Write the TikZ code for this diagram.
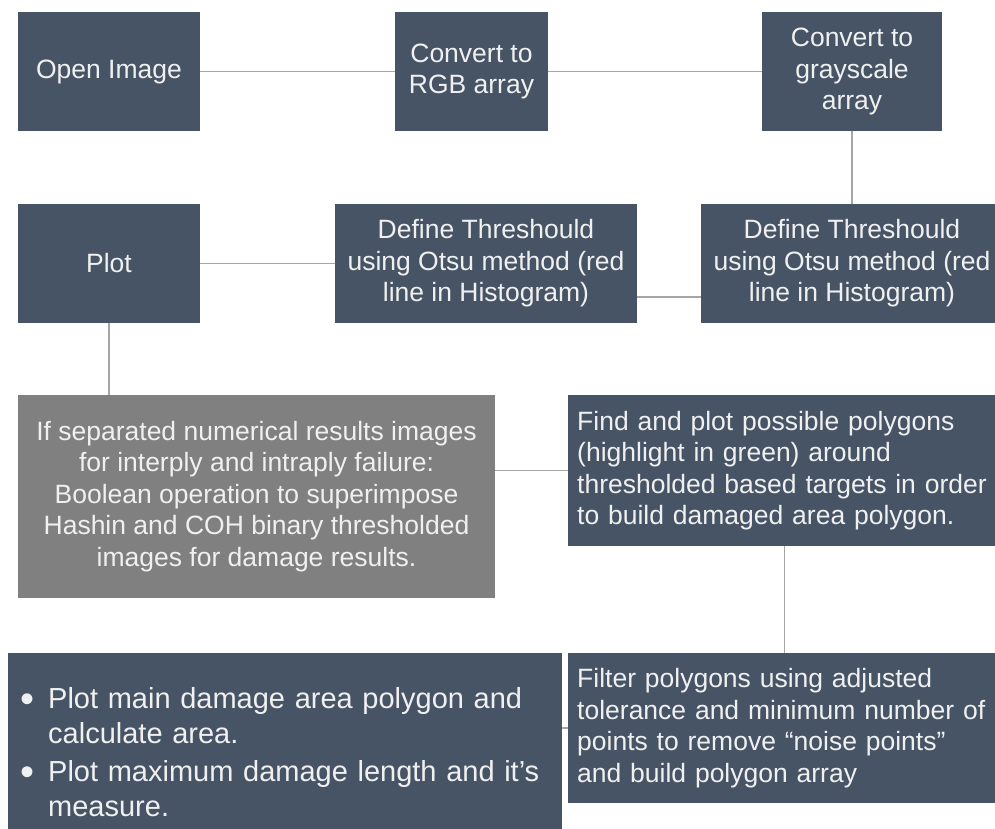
\documentclass[tikz,border=0pt]{standalone}
\usepackage{fontspec}
\setmainfont{Liberation Sans}
\usepackage{enumitem}
\usepackage{tikz}
\usetikzlibrary{positioning}
\definecolor{slate}{RGB}{70,84,102}
\definecolor{ash}{RGB}{128,128,128}
\definecolor{chalk}{RGB}{240,240,240}
\definecolor{wire}{RGB}{166,166,166}

\begin{document}
\begin{tikzpicture}[x=1pt,y=-1pt,
    stepbox/.style={fill=slate,text=chalk,inner sep=0pt,align=center,
        font=\fontsize{26.5}{31.5}\selectfont},
    notebox/.style={stepbox,fill=ash},
    leftbox/.style={stepbox,align=left,text width=415pt,inner xsep=9pt,anchor=north west},
    link/.style={wire,line width=1.5pt}]
    \useasboundingbox (0,0) rectangle (995,828);

    % Lecture et conversion
    \node[stepbox,minimum width=182pt,minimum height=119pt] (open) at (109,71.5) {Open Image};
    \node[stepbox,minimum width=153pt,minimum height=119pt] (rgb) at (471.5,71.5) {Convert to\\RGB array};
    \node[stepbox,minimum width=180pt,minimum height=119pt] (gray) at (852,71.5) {Convert to\\grayscale\\array};

    % Seuillage
    \node[stepbox,minimum width=182pt,minimum height=119pt] (plot) at (109,263.5) {Plot};
    \node[stepbox,minimum width=302pt,minimum height=119pt] (otsumid) at (486,263.5)
        {Define Threshould\\using Otsu method (red\\line in Histogram)};
    \node[stepbox,minimum width=302pt,minimum height=119pt] (otsu) at (852,263.5)
        {Define Threshould\\using Otsu method (red\\line in Histogram)};

    % Superposition et polygones
    \node[notebox,minimum width=477pt,minimum height=203pt] (boolean) at (256.5,496.5)
        {If separated numerical results images\\for interply and intraply failure:\\Boolean operation to superimpose\\Hashin and COH binary thresholded\\images for damage results.};
    \node[leftbox,minimum height=151pt] (find) at (568,395)
        {Find and plot possible polygons\\(highlight in green) around\\thresholded based targets in order\\to build damaged area polygon.};
    \node[leftbox,minimum height=150pt] (filter) at (568,653)
        {Filter polygons using adjusted\\tolerance and minimum number of\\points to remove “noise points”\\and build polygon array};

    % Mesures finales
    \node[stepbox,anchor=north west,align=left,text width=530pt,inner xsep=12pt,minimum height=184pt,
        font=\fontsize{29}{35}\selectfont] (measure) at (8,653) {%
        \begin{itemize}[label={\raisebox{-3.5pt}{\fontsize{40}{35}\selectfont\textbullet}},
            leftmargin=28pt,labelwidth=14pt,labelsep=14pt,align=left,
            itemsep=3pt,topsep=0pt,parsep=0pt,partopsep=0pt]
        \item Plot main damage area polygon and\\calculate area.
        \item Plot maximum damage length and it’s\\measure.
        \end{itemize}};

    % Liaisons
    \draw[link] (open.east) -- (rgb.west);
    \draw[link] (rgb.east) -- (gray.west);
    \draw[link] (gray.south) -- (gray.south |- otsu.north);
    \draw[link] ([yshift=-33.5pt]otsu.west) -- ([yshift=-33.5pt]otsumid.east);
    \draw[link] (otsumid.west) -- (plot.east);
    \draw[link] (plot.south) -- (plot.south |- boolean.north);
    \draw[link] (boolean.east |- find.west) -- (find.west);
    \draw[link] (find.south) -- (find.south |- filter.north);
    \draw[link] (filter.west) -- (filter.west -| measure.east);
\end{tikzpicture}
\end{document}
